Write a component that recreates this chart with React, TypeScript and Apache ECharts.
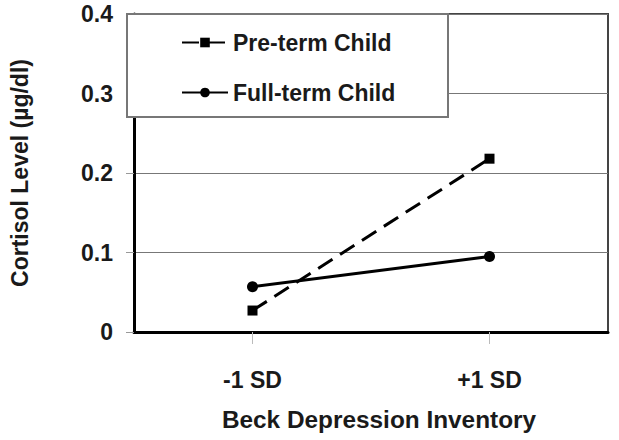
import React, { useEffect, useRef } from 'react';
import * as echarts from 'echarts';

const categories = ['-1 SD', '+1 SD'];
const pretermValues = [0.027, 0.218];
const fulltermValues = [0.057, 0.095];
const yMin = 0;
const yMax = 0.4;
const yStep = 0.1;
const seriesNames = ['Pre-term Child', 'Full-term Child'];
const xAxisTitle = 'Beck Depression Inventory';
const yAxisTitle = 'Cortisol Level (µg/dl)';

const FONT = '"Liberation Sans", Arial, Helvetica, sans-serif';

export default function App() {
  const ref = useRef<HTMLDivElement>(null);
  useEffect(() => {
    if (!ref.current) return;
    const chart = echarts.init(ref.current, undefined, { renderer: 'svg' });
    const textBase = { fontFamily: FONT, fontWeight: 'bold', fontSize: 23, color: '#1a1a1a' };
    chart.setOption({
      animation: false,
      backgroundColor: '#ffffff',
      grid: {
        left: 127, right: 11, top: 14, bottom: 108,
        show: true, borderColor: '#444', borderWidth: 2, backgroundColor: 'transparent',
      },
      xAxis: {
        type: 'category',
        data: categories,
        boundaryGap: true,
        axisLine: { lineStyle: { color: '#000', width: 3 } },
        axisTick: { show: true, alignWithLabel: true, length: 12, lineStyle: { color: '#bbb', width: 1 } },
        axisLabel: { ...textBase, margin: 36 },
        splitLine: { show: false },
      },
      yAxis: {
        type: 'value',
        min: yMin, max: yMax, interval: yStep,
        name: yAxisTitle,
        nameLocation: 'middle',
        nameGap: 103,
        nameTextStyle: { ...textBase },
        axisLine: { show: true, lineStyle: { color: '#000', width: 3 } },
        axisTick: { show: true, length: 8, lineStyle: { color: '#999', width: 1 } },
        axisLabel: { ...textBase, margin: 21 },
        splitLine: { show: true, lineStyle: { color: '#777', width: 1 } },
      },
      legend: {
        orient: 'vertical',
        left: 176, top: 26,
        itemWidth: 46, itemHeight: 12, itemGap: 27,
        textStyle: { ...textBase },
        data: seriesNames,
        z: 10,
      },
      graphic: [
        {
          type: 'rect', z: 8,
          shape: { x: 127, y: 14, width: 321, height: 103 },
          style: { fill: '#fff', stroke: '#777', lineWidth: 2 },
        },
        {
          type: 'text', z: 8,
          x: 379, y: 420, scaleX: 1.06,
          style: { text: xAxisTitle, fontFamily: FONT, fontWeight: 'bold', fontSize: 23, fill: '#1a1a1a', align: 'center', verticalAlign: 'middle' },
        },
      ],
      series: [
        {
          name: seriesNames[0], type: 'line', data: pretermValues,
          symbol: 'rect', symbolSize: 10,
          lineStyle: { color: '#000', width: 3, type: [17, 9] },
          itemStyle: { color: '#000' },
        },
        {
          name: seriesNames[1], type: 'line', data: fulltermValues,
          symbol: 'circle', symbolSize: 11,
          lineStyle: { color: '#000', width: 3, type: 'solid' },
          itemStyle: { color: '#000' },
        },
      ],
    });
    return () => chart.dispose();
  }, []);
  return <div ref={ref} style={{ width: 619, height: 440, position: 'absolute', left: 0, top: 0 }} />;
}
